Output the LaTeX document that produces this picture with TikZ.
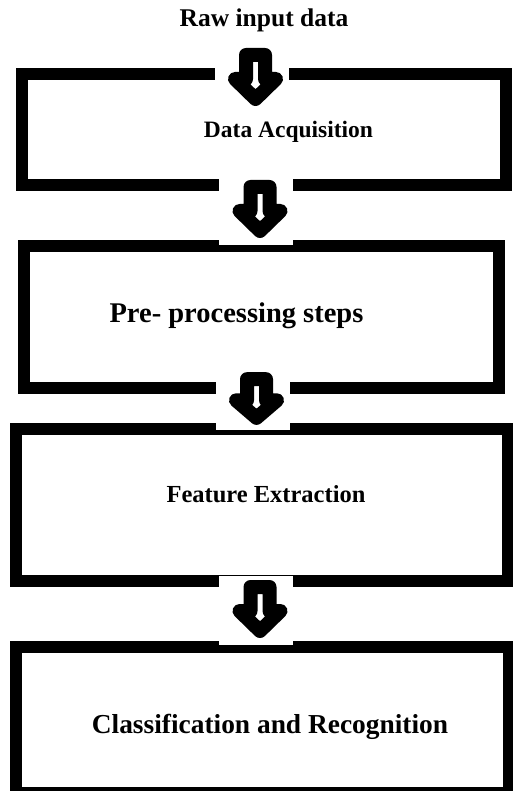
\documentclass[tikz,border=0pt]{standalone}
\usepackage{fontspec}
\setmainfont{Liberation Serif}
\usepackage{tikz}
\usetikzlibrary{positioning}

\begin{document}
\begin{tikzpicture}[
    x=1pt, y=-1pt,
    stage/.style={draw, line width=12pt, inner sep=0pt, minimum width=#1},
    caption/.style={font=\bfseries\fontsize{#1}{#1}\selectfont, anchor=base, inner sep=0pt},
    downarrow/.pic={
        % clear the border behind the arrow, then the hollow block arrow
        \fill[white] (-41,-4) rectangle (33,65);
        \filldraw[fill=white, draw=black, line width=14pt, line join=round]
            (-9.5,7) -- (9.5,7) -- (9.5,31) -- (20.5,31) -- (0,51) -- (-20.5,31) -- (-9.5,31) -- cycle;
    },
]
    \fill[white] (0,0) rectangle (512,791);
    \useasboundingbox (0,0) rectangle (512,791);

    % Stage boxes
    \node[stage=484.5pt, minimum height=110.5pt] (acq) at (263.75,129.75) {};
    \node[stage=475pt, minimum height=142pt] (prep) at (261.5,317) {};
    \node[stage=492.5pt, minimum height=152pt] (feat) at (261.75,505) {};
    \node[stage=493pt, minimum height=146pt] (clsf) at (262,720) {};

    % Arrows between the stages
    \coordinate (in1) at (255.5,48);
    \coordinate (in2) at (260,180);
    \coordinate (in3) at (256.5,373);
    \coordinate (in4) at (260,580);
    \pic at (in1) {downarrow};
    \pic at (in2) {downarrow};
    \pic[yscale=.88] at (in3) {downarrow};
    \pic at (in4) {downarrow};

    % Labels
    \node[caption=25.5] (rawtext) at (264,27) {Raw input data};
    \node[caption=23.5] (acqtext) at (288.5,138) {Data Acquisition};
    \node[caption=28.5] (preptext) at (236.5,322) {Pre- processing steps};
    \node[caption=24.5] (feattext) at (266,502) {Feature Extraction};
    \node[caption=27.4] (clsftext) at (270,733) {Classification and Recognition};
\end{tikzpicture}
\end{document}
